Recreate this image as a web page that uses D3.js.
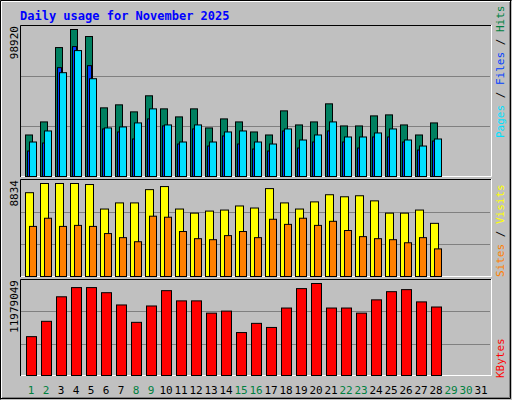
<!DOCTYPE html><html><head><meta charset="utf-8">
<script src="https://cdn.jsdelivr.net/npm/d3@7"></script>
<style>body{margin:0;background:#fff}svg text{font-family:"DejaVu Sans Mono",monospace}</style></head><body>
<svg id="c" width="512" height="400"></svg>
<script>
const days=d3.range(1,32);
const weekendDays=[1,2,8,9,15,16,22,23,29,30];
const hits=[27794,36329,84914,96732,92136,45521,47490,42895,53399,44864,39612,44864,32390,38299,36329,29764,27794,43551,34359,36329,48147,33703,33703,40268,40925,34359,27794,35673];
const files=[17289,22542,71783,85570,73096,31733,29764,25168,38299,33703,21885,31733,20572,27137,21885,18602,17289,30420,19259,23198,30420,23198,19259,26481,26481,23198,17946,23855];
const pages=[23198,30420,68500,82944,64561,32390,33046,35673,44864,34359,23198,34359,23198,29764,30420,23198,21885,31733,24511,27794,36329,26481,26481,29107,31733,24511,20572,25168];
const visits=[7638,8466,8466,8466,8374,6166,6718,6718,7914,8190,6166,5797,5982,6074,6442,6258,8006,6718,6166,6810,7454,7270,7362,6902,5797,5797,6074,4877];
const sites=[4601,5337,4601,4693,4601,3957,3589,3221,5521,5429,4141,3497,3405,3773,4141,3589,5245,4785,5337,4693,5061,4233,3681,3497,3405,3129,3589,2577];
const kbytes=[5133843,7108398,10267686,11452419,11452419,10794234,9214590,6976761,9082953,11057508,9741138,9741138,8161494,8424768,5660391,6845124,6318576,8819679,11320782,11979049,8819679,8819679,8161494,9872775,10925871,11189145,9609501,8951316];
const maxLabels=["98920","8834","11979049"];
const title="Daily usage for November 2025";

const svg=d3.select("#c");
svg.append("rect").attr("x",0).attr("y",0).attr("width",512).attr("height",400).attr("fill","#c0c0c0");
svg.append("path").attr("d","M0.5,399.5V0.5H511.5").attr("stroke","#000").attr("fill","none");
svg.append("path").attr("d","M1.5,398V1.5H510").attr("stroke","#fff").attr("fill","none");
svg.append("path").attr("d","M1,398.5H510.5V1").attr("stroke","#000").attr("fill","none");
svg.append("path").attr("d","M2,397.5H509.5V2").attr("stroke","#808080").attr("fill","none");
svg.append("text").attr("x",20).attr("y",20).text(title).attr("fill","#0000ff").attr("font-weight","bold").attr("font-size",12);

const x=d3.scaleLinear().domain([1,32]).range([25,490]);
const panels=[
 {top:25,bot:177,label:maxLabels[0],max:d3.max(hits)},
 {top:179,bot:277,label:maxLabels[1],max:d3.max(visits)},
 {top:279,bot:376,label:maxLabels[2],max:d3.max(kbytes)}];
panels.forEach(p=>{
 p.y=d3.scaleLinear().domain([0,p.max]).range([p.bot,p.top+4]);
 const h=p.bot-p.top;
 svg.append("rect").attr("x",20).attr("y",p.top).attr("width",471).attr("height",h).attr("fill","#c0c0c0");
 [1/3,2/3].forEach(f=>svg.append("line").attr("x1",21).attr("x2",490).attr("y1",Math.round(p.top+h*f)+0.5).attr("y2",Math.round(p.top+h*f)+0.5).attr("stroke","#808080"));
 svg.append("path").attr("d",`M20.5,${p.bot}V${p.top+0.5}H491`).attr("stroke","#000").attr("fill","none");
 svg.append("path").attr("d",`M21,${p.bot-0.5}H491.5V${p.top}`).attr("stroke","#fff").attr("fill","none");
 svg.append("text").attr("transform",`translate(18,${p.top+1}) rotate(-90)`).attr("text-anchor","end").attr("font-size",11).text(p.label);
});
function bars(data,p,off,w,color){
 svg.append("g").selectAll("rect").data(data).join("rect")
  .attr("x",(d,i)=>x(i+1)+off+0.5).attr("y",d=>p.y(d)+0.5).attr("width",w).attr("height",d=>p.bot-p.y(d)-1)
  .attr("fill",color).attr("stroke","#000");
}
bars(hits,panels[0],0,7,"#008060");
bars(files,panels[0],2,4,"#0040ff");
bars(pages,panels[0],4,7,"#00e0ff");
bars(visits,panels[1],0,8,"#ffff00");
bars(sites,panels[1],4,7,"#ff8000");
bars(kbytes,panels[2],1,10,"#ff0000");

svg.append("g").selectAll("text").data(days).join("text")
 .attr("x",d=>x(d)+6).attr("y",394).attr("text-anchor","middle").attr("font-size",11)
 .attr("fill",d=>weekendDays.includes(d)?"#008040":"#000").text(d=>d);

function sideLabel(yBottom,parts){
 const t=svg.append("text").attr("transform",`translate(504,${yBottom}) rotate(-90)`).attr("font-size",11);
 parts.forEach(([s,c])=>t.append("tspan").attr("fill",c).text(s));
}
sideLabel(138,[["Pages","#00e0ff"],[" / ","#000"],["Files","#0040ff"],[" / ","#000"],["Hits","#008040"]]);
sideLabel(277,[["Sites","#ff8000"],[" / ","#000"],["Visits","#ffff00"]]);
sideLabel(378,[["KBytes","#ff0000"]]);
</script></body></html>
